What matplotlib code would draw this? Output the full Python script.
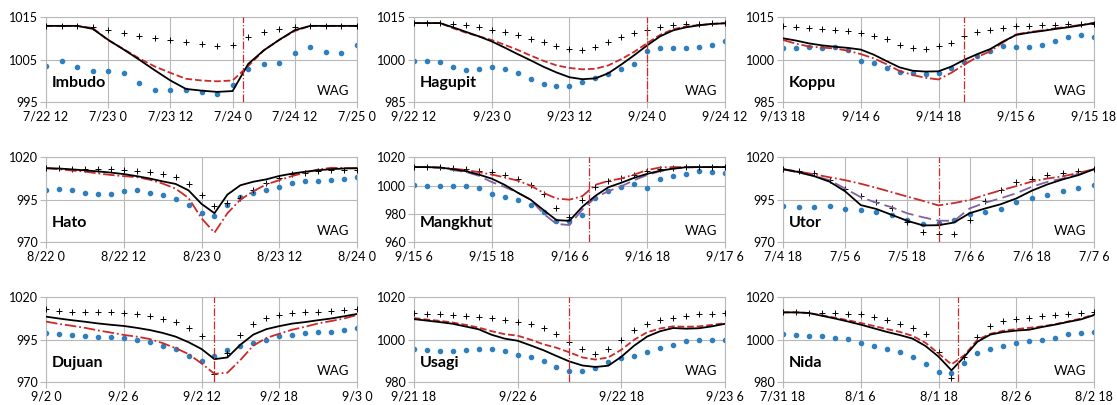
import matplotlib.pyplot as plt
import numpy as np

plt.rcParams["font.family"] = ["Lato", "DejaVu Sans"]

# ---- data (hPa), hours counted from the first x tick of every panel ----
imbudo_t = np.arange(0, 61, 3)
imbudo_black = [1013, 1013, 1013, 1012.3, 1009.7, 1007.4, 1005, 1002.5, 1000.1, 998.1, 997.7,
                997.4, 997.6, 1004, 1007.2, 1009.7, 1012, 1013, 1013, 1013, 1013]
imbudo_red = [1013, 1013, 1013, 1012.5, 1009.6, 1007.5, 1005.3, 1003.4, 1001.9, 1000.5, 1000.1,
              999.9, 1000.1, 1003.5, 1007.2, 1009.7, 1011.8, 1013, 1013, 1013, 1013]
imbudo_cross = [1013, 1013, 1013, 1012.7, 1012.1, 1011.4, 1010.7, 1010.2, 1009.7, 1009.2, 1008.8,
                1008.3, 1008.6, 1010.3, 1011.5, 1012.2, 1012.7, 1013, 1013, 1013, 1013]
imbudo_dots = [1003.5, 1004.7, 1003.2, 1002.4, 1002.3, 1001.8, 999.5, 997.8, 997.8, 997.8, 997.4,
               996.8, 999, 1002.8, 1004, 1004.3, 1006.5, 1007.9, 1006.9, 1006.6, 1008.4]

hagupit_t = np.arange(0, 49, 2)
hagupit_black = [1013, 1013, 1013, 1011.5, 1009.9, 1008.3, 1006.5, 1004.3, 1002, 999.8, 997.5, 995.5,
                 993.8, 993.1, 993.4, 995.2, 998.3, 1001.6, 1005.1, 1008.3, 1010.4, 1011.5, 1012.2,
                 1012.7, 1012.9]
hagupit_red = [1013, 1013, 1013, 1011.2, 1009.6, 1008.3, 1007, 1005.3, 1003.5, 1001.5, 999.6, 998,
               997.1, 996.6, 996.8, 998, 1000.2, 1002.8, 1005.9, 1008.8, 1010.8, 1011.8, 1012.3,
               1012.7, 1013]
hagupit_cross = [1013, 1013, 1013, 1012.7, 1012.2, 1011.6, 1010.7, 1009.9, 1008.7, 1007.5, 1006.2,
                 1005, 1003.8, 1003.4, 1004.5, 1006.2, 1007.9, 1009.6, 1010.7, 1011.7, 1012.2,
                 1012.5, 1012.8, 1013, 1013]
hagupit_dots = [999.7, 999.7, 999.3, 997.3, 996.5, 996.7, 997.3, 996.8, 995.2, 993, 991.5, 990.8,
                990.8, 992, 993.4, 994.9, 996.8, 998.6, 1003, 1004.1, 1004.2, 1004.1, 1004.4,
                1005.2, 1006.6]

koppu_t = np.arange(0, 49, 2)
koppu_black = [1007.6, 1006.8, 1005.8, 1005.1, 1004.6, 1004.2, 1003.6, 1001.8, 999.5, 997.3, 996.1,
               995.8, 995.9, 997.6, 1000, 1002, 1003.8, 1006.5, 1008.8, 1009.6, 1010.2, 1010.9,
               1011.5, 1012.2, 1013]
koppu_red = [1007, 1005.7, 1004.7, 1004.3, 1004, 1003.2, 1002, 1000.5, 998.4, 996, 994.6, 993.6, 993,
             995.4, 998.3, 1001, 1003, 1006.2, 1009, 1009.8, 1010.4, 1011.1, 1011.7, 1012.4, 1013]
koppu_cross = [1011.9, 1011.6, 1011.3, 1011, 1010.6, 1010.1, 1009.6, 1008.5, 1007.3, 1005.3, 1004.1,
               1003.8, 1004.7, 1006, 1008.5, 1009.7, 1010.5, 1011.2, 1011.9, 1012, 1012.2, 1012.3,
               1012.5, 1012.6, 1012.7]
koppu_dots = [1004, 1004, 1004.4, 1004.2, 1004.4, 1003.5, 999.6, 999, 997, 995.6, 995.4, 994.8,
              995.4, 997.2, 999.1, 1001.2, 1003.2, 1005, 1004.4, 1004.4, 1005.4, 1006.6, 1008.2,
              1008.6, 1008]

hato_t = np.arange(0, 49, 2)
hato_black = [1013.6, 1013.4, 1012.9, 1012.3, 1011.7, 1011, 1010.1, 1008.9, 1007.5, 1005.8, 1004.3,
              1000.5, 992.5, 987, 998, 1003.5, 1005.6, 1007, 1009, 1010.4, 1011.5, 1012.4, 1013,
              1013.4, 1013.6]
hato_red = [1013.6, 1013, 1012.2, 1011.6, 1010.5, 1009.6, 1008.9, 1008.3, 1006.8, 1004.5, 1001.5,
            996, 984, 975.5, 987, 995, 1000, 1004, 1006.5, 1009, 1011, 1012.8, 1013.8, 1013.7, 1013.5]
hato_cross = [1013.6, 1013.5, 1013.4, 1013.2, 1013.1, 1013, 1012.7, 1012.2, 1011.4, 1010.2, 1008.4,
              1004, 997.5, 991.5, 993, 996, 1001, 1005, 1008, 1010, 1011, 1012, 1012.5, 1012.5, 1012.5]
hato_dots = [1000.6, 1001.3, 1000.5, 999.2, 998.2, 998.6, 1000.4, 1000.5, 999.2, 997.6, 995.2, 991.7,
             987.4, 985.5, 992, 996.5, 999, 1000.6, 1002.6, 1004.7, 1005.8, 1006.3, 1006.6, 1007,
             1008.6]

mangkhut_t = np.arange(0, 49, 2)
mangkhut_black = [1013.1, 1013.1, 1012.8, 1011.6, 1010.2, 1007.8, 1004.9, 1000.5, 995, 990, 982.6,
                  975.5, 975, 985, 992.7, 998.8, 1002, 1005.5, 1008.3, 1010.5, 1012, 1013, 1013.1,
                  1013.1, 1013.1]
mangkhut_red = [1013.1, 1013.1, 1012.6, 1012, 1011, 1009.5, 1007.8, 1005.8, 1003.5, 1000, 994.8,
                990.8, 990, 992.5, 1000.5, 1003.3, 1005, 1007.8, 1011, 1012.8, 1013.1, 1013.1,
                1013.1, 1013.1, 1013.1]
mangkhut_purple = [1013.1, 1013.1, 1012.6, 1011, 1009.6, 1007, 1002.5, 999, 995, 990, 980, 972.8,
                   972, 983, 991.5, 996, 999.5, 1003.8, 1007.5, 1010.2, 1012, 1012.8, 1013.1,
                   1013.1, 1013.1]
mangkhut_cross = [1013.1, 1013, 1012.9, 1012.5, 1011.7, 1010.5, 1009.3, 1007.3, 1004.5, 1000.5, 994,
                  984, 977.5, 990, 999, 1003.4, 1005.6, 1007.8, 1010.5, 1011.8, 1012.5, 1012.8, 1013,
                  1013.1, 1013.1]
mangkhut_dots = [1000.5, 1000, 999.8, 999.8, 999.8, 998.5, 994.3, 992, 989.7, 986.2, 981.4, 975,
                 974.8, 979, 991, 996.3, 998.8, 1001.3, 998, 1004.5, 1007, 1008.3, 1010, 1009.8,
                 1008.6]

utor_t = np.arange(0, 61, 3)
utor_black = [1013, 1011.3, 1008.9, 1005.6, 999.9, 991.8, 989.5, 986, 982.5, 979.8, 979.9, 981.5,
              987, 989.8, 992.3, 995.7, 1000.3, 1004, 1007, 1009.5, 1013]
utor_red = [1013, 1011.6, 1010, 1008.2, 1006.5, 1004.4, 1002, 999.4, 996.8, 994.3, 991.6, 993, 994.8,
            997.8, 1000.5, 1003, 1005.7, 1007.5, 1008.8, 1010.8, 1013]
utor_purple = [1013, 1011, 1009, 1006.5, 1001.5, 996.5, 993.2, 990.5, 986.9, 984.6, 982.6, 982.5,
               989.8, 993.2, 995.8, 998.8, 1002.6, 1005.5, 1007.5, 1010, 1013]
utor_cross = [1013, 1012, 1010.6, 1006.5, 1001.3, 997, 993.5, 990, 982, 976, 975, 975, 983, 994.5,
              1001, 1005.5, 1007.2, 1009.3, 1010.6, 1011.8, 1013]
utor_dots = [991.3, 990.5, 990.5, 991, 989.3, 988.7, 987.9, 986, 983, 980.5, 981.5, 983.2, 986.5,
             988, 989.5, 993.5, 995.8, 997.5, 1000, 1001.7, 1003.7]

dujuan_t = np.arange(0, 25, 1)
dujuan_black = [1008.6, 1007.5, 1006.5, 1005.6, 1004.6, 1003.8, 1003.1, 1002, 1000.7, 999, 996.8,
                993.5, 989.5, 983.5, 984.5, 992, 998, 1001.2, 1003, 1004.5, 1005.4, 1006.5, 1007.5,
                1008.8, 1010.2]
dujuan_red = [1005.7, 1004.3, 1003.2, 1002, 1000.5, 999.2, 997.8, 996.8, 995.4, 993, 990, 986.5, 981,
              974.8, 975.5, 983, 991.5, 996, 998.5, 1000.9, 1002.6, 1004.6, 1006, 1007.5, 1009.6]
dujuan_cross = [1012.9, 1012.2, 1011.6, 1011.6, 1011.4, 1011.2, 1010.6, 1010, 1009.2, 1007.4,
                1005.3, 1001.8, 997.3, 974.7, 987, 997.9, 1004.3, 1007.6, 1009.6, 1010.6, 1011.2,
                1011.6, 1012.2, 1012.5, 1012.9]
dujuan_dots = [998.9, 998.5, 998, 997.2, 996.7, 996.3, 995.9, 994.7, 993.4, 991.5, 989.5, 985.5,
               982.5, 985.5, 989, 991.2, 993, 995, 996.9, 997.9, 998.8, 999.3, 999.5, 1000.5, 1001.8]

usagi_t = np.arange(0, 36.1, 1.5)
usagi_black = [1009.7, 1009, 1008.3, 1007.5, 1006.2, 1004.9, 1002.3, 1000.5, 999.5, 997.3, 995,
               992.3, 989.7, 987.8, 987.1, 987.7, 991.9, 997.2, 1001.5, 1004, 1005.5, 1005.2, 1005.4,
               1006.3, 1007.5]
usagi_red = [1010.2, 1009.5, 1008.9, 1008.1, 1007, 1005.7, 1004, 1002.6, 1001.9, 1000, 997.8, 996.2,
             994, 991.6, 990.6, 991.6, 995.2, 1000, 1003.5, 1005.3, 1006.3, 1006.1, 1006.3, 1007,
             1007.8]
usagi_cross = [1012.5, 1012.3, 1012, 1011.8, 1011.3, 1010.9, 1010.2, 1009.5, 1008.3, 1007.2, 1005.5,
               1002.7, 998.8, 995.8, 993.4, 995.5, 999.8, 1004.5, 1007.5, 1009.3, 1010.3, 1011.3,
               1012, 1012.3, 1012.5]
usagi_dots = [995.8, 995.3, 994.8, 994.5, 995, 995.7, 995.6, 994.5, 992.8, 991.6, 989.8, 987.3, 985,
              985, 986.6, 989.3, 991.2, 992.2, 994, 996, 997.5, 999.3, 999.8, 1000, 1000]

nida_t = np.arange(0, 49, 2)
nida_black = [1012.9, 1012.9, 1012.6, 1011.3, 1010, 1008.6, 1007.1, 1005.4, 1003.7, 1002.2, 1000.5,
              997, 992, 985.5, 992, 999, 1002.4, 1003.6, 1004.3, 1004.7, 1006, 1007.1, 1008.4,
              1009.6, 1011.6]
nida_red = [1012.9, 1012.9, 1012.6, 1011.5, 1010.4, 1009.2, 1007.9, 1006.5, 1005, 1003.7, 1001.8,
            998.5, 993.5, 988.3, 992.7, 999.9, 1002.8, 1004.2, 1005, 1005.6, 1006.3, 1007.3, 1008.6,
            1010, 1011.9]
nida_cross = [1012.9, 1012.9, 1012.8, 1012.6, 1012.4, 1012.2, 1011.9, 1010.6, 1009.2, 1007.6, 1005.7,
              1002.5, 994, 982, 992, 1001.4, 1006.5, 1009, 1009.7, 1010.4, 1011, 1011.5, 1012,
              1012.5, 1012.9]
nida_dots = [1002.5, 1002.3, 1001.8, 1001.5, 1001, 1000.3, 998.3, 997, 995.7, 994.3, 991.8, 988.7,
             984.7, 984.2, 989, 993.5, 995.6, 997.2, 998.5, 999.2, 999.7, 1001, 1002.5, 1003, 1003.5]

# landfall hour (None = no marker)
landfall = {"Imbudo": 38, "Hagupit": 36, "Koppu": 28, "Hato": None, "Mangkhut": 27,
            "Utor": 30, "Dujuan": 13, "Usagi": 18, "Nida": 27}

imbudo_ticks = ["7/22 12", "7/23 0", "7/23 12", "7/24 0", "7/24 12", "7/25 0"]
hagupit_ticks = ["9/22 12", "9/23 0", "9/23 12", "9/24 0", "9/24 12"]
koppu_ticks = ["9/13 18", "9/14 6", "9/14 18", "9/15 6", "9/15 18"]
hato_ticks = ["8/22 0", "8/22 12", "8/23 0", "8/23 12", "8/24 0"]
mangkhut_ticks = ["9/15 6", "9/15 18", "9/16 6", "9/16 18", "9/17 6"]
utor_ticks = ["7/4 18", "7/5 6", "7/5 18", "7/6 6", "7/6 18", "7/7 6"]
dujuan_ticks = ["9/2 0", "9/2 6", "9/2 12", "9/2 18", "9/3 0"]
usagi_ticks = ["9/21 18", "9/22 6", "9/22 18", "9/23 6"]
nida_ticks = ["7/31 18", "8/1 6", "8/1 18", "8/2 6", "8/2 18"]

RED = "#cc2a2a"
BLUE = "#2f7fbf"
PURPLE = "#8064a2"
GRID = "#b8b8b8"

panels = [
    ("Imbudo", imbudo_t, imbudo_black, imbudo_red, "--", None, imbudo_cross, imbudo_dots,
     imbudo_ticks, [995, 1005, 1015]),
    ("Hagupit", hagupit_t, hagupit_black, hagupit_red, "--", None, hagupit_cross, hagupit_dots,
     hagupit_ticks, [985, 1000, 1015]),
    ("Koppu", koppu_t, koppu_black, koppu_red, "-.", None, koppu_cross, koppu_dots,
     koppu_ticks, [985, 1000, 1015]),
    ("Hato", hato_t, hato_black, hato_red, "-.", None, hato_cross, hato_dots,
     hato_ticks, [970, 995, 1020]),
    ("Mangkhut", mangkhut_t, mangkhut_black, mangkhut_red, "-.", mangkhut_purple, mangkhut_cross,
     mangkhut_dots, mangkhut_ticks, [960, 980, 1000, 1020]),
    ("Utor", utor_t, utor_black, utor_red, "-.", utor_purple, utor_cross, utor_dots,
     utor_ticks, [970, 995, 1020]),
    ("Dujuan", dujuan_t, dujuan_black, dujuan_red, "-.", None, dujuan_cross, dujuan_dots,
     dujuan_ticks, [970, 995, 1020]),
    ("Usagi", usagi_t, usagi_black, usagi_red, "--", None, usagi_cross, usagi_dots,
     usagi_ticks, [980, 1000, 1020]),
    ("Nida", nida_t, nida_black, nida_red, "--", None, nida_cross, nida_dots,
     nida_ticks, [980, 1000, 1020]),
]

fig = plt.figure(figsize=(11.17, 4.05), dpi=100)
col_left = [0.0412, 0.3706, 0.701]
row_bottom = [0.748, 0.4025, 0.0568]
w, h = 0.2784, 0.209

for i, (name, t, black, red, red_ls, purple, cross, dots, ticks, yticks) in enumerate(panels):
    ax = fig.add_axes([col_left[i % 3], row_bottom[i // 3], w, h])
    span = t[-1]
    ax.plot(t, dots, ls="none", marker="o", ms=3.0, color=BLUE, zorder=2)
    ax.plot(t, cross, ls="none", marker="+", ms=4.5, mew=0.7, color="black", zorder=3)
    ax.plot(t, red, ls=red_ls, color=RED, lw=1.3, zorder=4)
    if purple is not None:
        ax.plot(t, purple, ls=(0, (7, 3)), color=PURPLE, lw=1.3, zorder=4)
    ax.plot(t, black, color="black", lw=1.3, zorder=5)
    if landfall[name] is not None:
        ax.axvline(landfall[name], color=RED, ls="-.", lw=0.9, zorder=6)

    ax.set_xlim(0, span)
    ax.set_ylim(yticks[0], yticks[-1])
    ax.set_xticks(np.linspace(0, span, len(ticks)))
    ax.set_xticklabels(ticks)
    ax.set_yticks(yticks)
    ax.grid(True, color=GRID, lw=0.8)
    ax.set_axisbelow(True)
    for s in ax.spines.values():
        s.set_color(GRID)
        s.set_linewidth(0.8)
    ax.tick_params(length=4, color=GRID, labelsize=9, pad=2)
    ax.text(0.02, 0.22, name, transform=ax.transAxes, fontsize=11.5, fontweight="bold",
            va="center", ha="left")
    ax.text(0.975, 0.13, "WAG", transform=ax.transAxes, fontsize=9.5, va="center", ha="right")

fig.savefig("out.png", dpi=100)
